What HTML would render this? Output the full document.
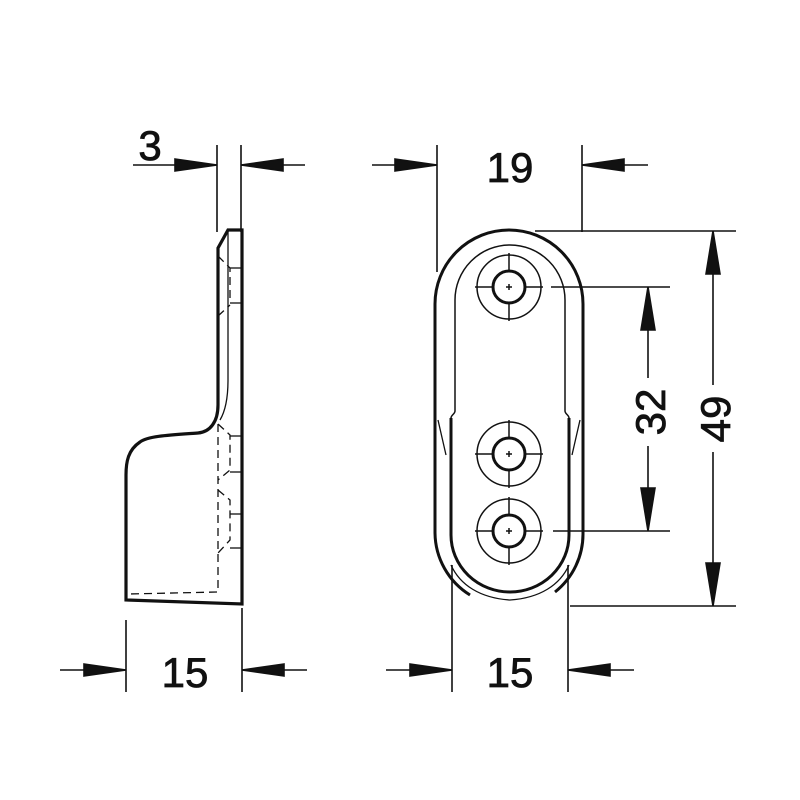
<!DOCTYPE html>
<html><head><style>body{margin:0;background:#fff}svg{display:block}</style></head><body>
<svg width="800" height="800" viewBox="0 0 800 800" xmlns="http://www.w3.org/2000/svg">
<g stroke="#111" fill="none" stroke-width="1.6">
<line x1="217" y1="145" x2="217" y2="232"/><line x1="241" y1="145" x2="241" y2="232"/>
<line x1="133" y1="165" x2="217" y2="165"/><path d="M175,159 L217,165 L175,171Z" fill="#111"/>
<line x1="305" y1="165" x2="241" y2="165"/><path d="M283,159 L241,165 L283,171Z" fill="#111"/>
<line x1="437" y1="145" x2="437" y2="272"/><line x1="582" y1="145" x2="582" y2="232"/>
<line x1="372" y1="165" x2="437" y2="165"/><path d="M395,159 L437,165 L395,171Z" fill="#111"/>
<line x1="648" y1="165" x2="582" y2="165"/><path d="M624,159 L582,165 L624,171Z" fill="#111"/>
<line x1="126" y1="620" x2="126" y2="692"/><line x1="242" y1="608" x2="242" y2="692"/>
<line x1="60" y1="670" x2="126" y2="670"/><path d="M84,664 L126,670 L84,676Z" fill="#111"/>
<line x1="307" y1="670" x2="242" y2="670"/><path d="M284,664 L242,670 L284,676Z" fill="#111"/>
<line x1="452" y1="565" x2="452" y2="692"/><line x1="568" y1="565" x2="568" y2="692"/>
<line x1="386" y1="670" x2="452" y2="670"/><path d="M410,664 L452,670 L410,676Z" fill="#111"/>
<line x1="634" y1="670" x2="568" y2="670"/><path d="M610,664 L568,670 L610,676Z" fill="#111"/>
<line x1="551" y1="287" x2="670" y2="287"/><line x1="553" y1="531" x2="670" y2="531"/>
<line x1="648" y1="287" x2="648" y2="378"/><line x1="648" y1="446" x2="648" y2="531"/>
<path d="M641,330 L648,287 L655,330Z" fill="#111"/><path d="M641,488 L648,531 L655,488Z" fill="#111"/>
<line x1="535" y1="231" x2="736" y2="231"/><line x1="570" y1="606" x2="736" y2="606"/>
<line x1="713" y1="231" x2="713" y2="385"/><line x1="713" y1="452" x2="713" y2="606"/>
<path d="M706,274 L713,231 L720,274Z" fill="#111"/><path d="M706,563 L713,606 L720,563Z" fill="#111"/>
</g>
<g stroke="#111" fill="none">
<path d="M242,230 L228,230 L218,248 L218,405 C218,422 210,432 198,433 C170,435 148,436 140,442 C128,450 126,462 126,475 L126,600 L242,604 Z" stroke-width="3.2"/>
<path d="M228,232 L228,380 C228,395 226,410 220,420" stroke-width="1.3"/>
<g stroke-width="1.3" stroke-dasharray="8,5">
<path d="M218,256 L230,268 L230,300"/><path d="M218,316 L230,305"/>
<path d="M218,424 L230,435 L230,470 L218,480"/><path d="M218,490 L230,500 L230,540 L218,553"/>
<path d="M218,424 L218,592 L128,594"/>
</g>
<g stroke-width="1.3"><line x1="230" y1="268" x2="242" y2="268"/><line x1="230" y1="303" x2="242" y2="303"/><line x1="230" y1="436" x2="242" y2="436"/><line x1="230" y1="472" x2="242" y2="472"/><line x1="230" y1="514" x2="242" y2="514"/><line x1="230" y1="548" x2="242" y2="548"/></g>
</g>
<g stroke="#111" fill="none">
<path d="M435,420 L435,304 A74,74 0 0 1 583,304 L583,420" stroke-width="3"/>
<path d="M435,420 L435,533 A74,74 0 0 0 470,595" stroke-width="3"/>
<path d="M583,420 L583,533 A74,74 0 0 1 555,592" stroke-width="3"/>
<path d="M455,411 L455,300 A54,54 0 0 1 565,300 L565,411 C565,414 569,415 569,418" stroke-width="1.5"/>
<path d="M455,411 C455,414 451,415 451,418" stroke-width="1.5"/>
<path d="M451,418 L451,535 A58,56 0 0 0 569,535 L569,418" stroke-width="3"/>
<path d="M438,420 L446,455 M580,420 L572,455" stroke-width="1.3"/>
<path d="M451,565 C460,585 480,598 510,600 C540,598 560,585 569,565" stroke-width="1.3"/>
<g stroke-width="1.5">
<g id="h">
<circle cx="509" cy="287" r="32"/><circle cx="509" cy="287" r="16" stroke-width="3"/>
<path d="M475,287 H493 M525,287 H543 M509,253 V271 M509,303 V321 M506,287 H512 M509,284 V290"/>
</g>
<use href="#h" y="167"/><use href="#h" y="244"/>
</g>
</g>
<g fill="#111" stroke="#111" stroke-width="0.8" font-family="Liberation Sans, sans-serif" font-size="42">
<text x="150" y="160" text-anchor="middle">3</text>
<text x="510" y="182" text-anchor="middle">19</text>
<text x="185" y="687" text-anchor="middle">15</text>
<text x="510" y="687" text-anchor="middle">15</text>
<text transform="translate(665,412) rotate(-90)" text-anchor="middle">32</text>
<text transform="translate(730,419) rotate(-90)" text-anchor="middle">49</text>
</g>
</svg>
</body></html>
